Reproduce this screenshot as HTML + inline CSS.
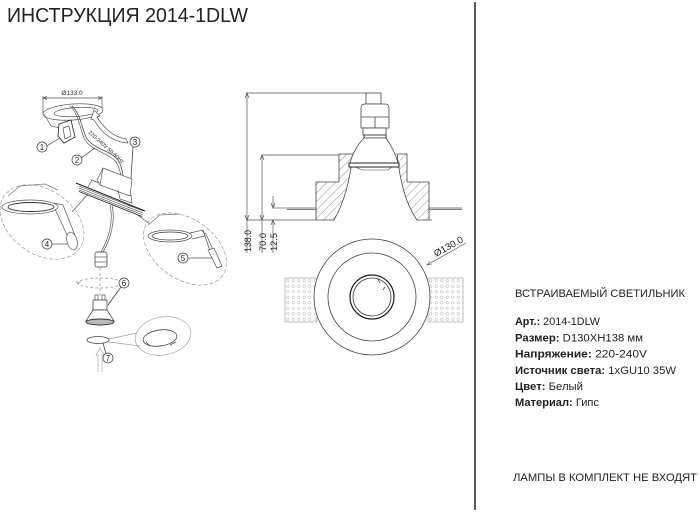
<!DOCTYPE html>
<html><head><meta charset="utf-8"><style>
html,body{margin:0;padding:0;background:#fff;}
svg{display:block;}
text{font-family:"Liberation Sans",Arial,sans-serif;}
</style></head><body>
<svg width="700" height="513" viewBox="0 0 700 513" xmlns="http://www.w3.org/2000/svg">
<defs>
<pattern id="hatch" patternUnits="userSpaceOnUse" width="6" height="6" patternTransform="rotate(45)">
<line x1="0" y1="0" x2="0" y2="6" stroke="#666" stroke-width="0.7"/>
</pattern>
<pattern id="dots" patternUnits="userSpaceOnUse" width="5.5" height="5.5" x="285" y="278">
<circle cx="2.75" cy="2.75" r="1.3" fill="none" stroke="#aaa" stroke-width="0.5"/>
</pattern>
</defs>
<rect width="700" height="513" fill="#fff"/>

<!-- Title -->
<text x="7" y="22" font-size="20" textLength="241" lengthAdjust="spacingAndGlyphs" fill="#222">ИНСТРУКЦИЯ 2014-1DLW</text>

<!-- Divider -->
<line x1="475" y1="2" x2="475" y2="510" stroke="#555" stroke-width="2"/>

<!-- Right text -->
<g fill="#222" font-size="11">
<text x="515" y="297" textLength="170" lengthAdjust="spacingAndGlyphs">ВСТРАИВАЕМЫЙ СВЕТИЛЬНИК</text>
<text x="515" y="325" textLength="85" lengthAdjust="spacingAndGlyphs"><tspan font-weight="bold">Арт.:</tspan> 2014-1DLW</text>
<text x="515" y="341.5" textLength="128" lengthAdjust="spacingAndGlyphs"><tspan font-weight="bold">Размер:</tspan> D130XH138 мм</text>
<text x="515" y="357.5" textLength="132" lengthAdjust="spacingAndGlyphs"><tspan font-weight="bold">Напряжение:</tspan> 220-240V</text>
<text x="515" y="374" textLength="161" lengthAdjust="spacingAndGlyphs"><tspan font-weight="bold">Источник света:</tspan> 1xGU10 35W</text>
<text x="515" y="390" textLength="68" lengthAdjust="spacingAndGlyphs"><tspan font-weight="bold">Цвет:</tspan> Белый</text>
<text x="515" y="406" textLength="84" lengthAdjust="spacingAndGlyphs"><tspan font-weight="bold">Материал:</tspan> Гипс</text>
<text x="513" y="481" textLength="184" lengthAdjust="spacingAndGlyphs">ЛАМПЫ В КОМПЛЕКТ НЕ ВХОДЯТ</text>
</g>

<!-- ================= Cross-section ================= -->
<g fill="none" stroke="#555" stroke-width="0.7">
<line x1="246" y1="93" x2="366" y2="93"/>
<line x1="247" y1="93" x2="247" y2="253"/>
<path d="M245,98 L247,93 L249,98" />
<path d="M245,215 L247,220 L249,215" />
<line x1="262" y1="155" x2="339" y2="155"/>
<line x1="262" y1="155" x2="262" y2="253"/>
<path d="M260,160 L262,155 L264,160" />
<path d="M260,215 L262,220 L264,215" />
<line x1="273" y1="196" x2="273" y2="208"/>
<path d="M271,203 L273,208 L275,203" />
<line x1="273" y1="208" x2="287" y2="208"/>
<line x1="273" y1="220" x2="273" y2="253"/>
<path d="M271,225 L273,220 L275,225" />
<line x1="246" y1="220" x2="316" y2="220"/>
<line x1="429" y1="220" x2="432" y2="220"/>
<line x1="287" y1="208" x2="316" y2="208"/>
<line x1="287" y1="209.5" x2="316" y2="209.5"/>
<line x1="429" y1="208" x2="462" y2="208"/>
<line x1="429" y1="209.5" x2="462" y2="209.5"/>
</g>
<g fill="#222" font-size="9.5">
<text transform="translate(251,252) rotate(-90)" textLength="22" lengthAdjust="spacingAndGlyphs">138.0</text>
<text transform="translate(266,251) rotate(-90)" textLength="18" lengthAdjust="spacingAndGlyphs">70.0</text>
<text transform="translate(277,251) rotate(-90)" textLength="18" lengthAdjust="spacingAndGlyphs">12.5</text>
</g>

<path d="M339,154 L353,154 C350,180 344,203 334,220 L316,220 L316,182 L339,182 Z" fill="url(#hatch)" stroke="#444" stroke-width="0.8"/>
<path d="M397,154 L407,154 L407,182 L429,182 L429,220 L417,220 C405,203 400,180 397,154 Z" fill="url(#hatch)" stroke="#444" stroke-width="0.8"/>
<g fill="#fff" stroke="#555" stroke-width="0.6">
<path d="M316,210 q2,1.5 0,3"/>
<path d="M429,210 q-2,1.5 0,3"/>
</g>
<g fill="#fff" stroke="#444" stroke-width="0.8">
<rect x="366" y="93" width="15" height="11"/>
<path d="M361,128 L361,108 Q361,104 365,104 L385,104 Q389,104 389,108 L389,128 Z"/>
<line x1="361" y1="117" x2="389" y2="117"/>
<line x1="375" y1="117" x2="375" y2="128"/>
<rect x="363" y="128" width="23" height="7"/>
<path d="M364,135 L386,135 L386,138 L364,138 Z" stroke-width="1.1"/>
<path d="M364,138 C357,145 352,155 350,163 L398,163 C396,155 391,145 386,138 Z"/>
<path d="M349,163 L399,163 L399,167 L349,167 Z" stroke="#222" stroke-width="1"/>
</g>
<path d="M355,167 L362,170 L388,170 L392,167" fill="none" stroke="#444" stroke-width="0.6"/>

<!-- ================= Plan view ================= -->
<rect x="285" y="278" width="32" height="44" fill="url(#dots)" stroke="#999" stroke-width="0.6"/>
<rect x="428" y="278" width="35" height="44" fill="url(#dots)" stroke="#999" stroke-width="0.6"/>
<circle cx="372" cy="297" r="58" fill="#fff" stroke="#444" stroke-width="0.8"/>
<circle cx="372" cy="297" r="44" fill="none" stroke="#444" stroke-width="0.8"/>
<circle cx="372" cy="297" r="22" fill="none" stroke="#222" stroke-width="1.2"/>
<circle cx="372" cy="297" r="19" fill="none" stroke="#333" stroke-width="0.8"/>
<path d="M378,279 l2,4 M385,287 l-2,3" stroke="#333" stroke-width="0.7" fill="none"/>
<line x1="427" y1="265" x2="466" y2="243" stroke="#555" stroke-width="0.7"/>
<path d="M430,261 L427,265 L432,264" fill="none" stroke="#555" stroke-width="0.6"/>
<text transform="translate(436,257) rotate(-29)" font-size="9.5" fill="#222" textLength="32" lengthAdjust="spacingAndGlyphs">Ø130.0</text>

<!-- ================= Exploded view (left) ================= -->
<g fill="none" stroke="#555" stroke-width="0.7">
<line x1="43" y1="98" x2="102" y2="98"/>
<path d="M47,96.5 L43,98 L47,99.5 M98,96.5 L102,98 L98,99.5"/>
<line x1="43" y1="96" x2="43" y2="113"/>
<line x1="102" y1="96" x2="102" y2="109"/>
<ellipse cx="73" cy="112" rx="30" ry="8" transform="rotate(-4 73 112)" fill="#fff"/>
<ellipse cx="76" cy="112" rx="22" ry="4.5" transform="rotate(-4 76 112)"/>
<path d="M44,114 L51,126 L60,128"/>
<path d="M59,124 L71,120 L75,137 L64,143 L58,136 Z" fill="#fff" stroke="#333" stroke-width="0.9"/>
<path d="M63,128 L69,126 L71,136 L65,139 Z"/>
<path d="M70,106 C78,113 80,128 84,138 C90,151 108,152 116,162 C120,168 121,175 121,180"/>
<path d="M72,106 C80,113 82,128 86,137 C92,149 110,150 118,160 C122,166 123,174 123,180" stroke="#333"/>
<path d="M91,119 L94,110 L100,116 L97,117 C104,128 113,137 126,139 L128,143 C112,142 101,132 94,120 Z" fill="#fff"/>
<path d="M103,168 L132,179 L130,196 L100,185 Z" fill="#fff"/>
<path d="M100,185 L97,180 L103,168"/>
<path d="M118,190 L120,199 L132,203 L131,195"/>
<path d="M88,187 L92,180 L99,183"/>
<path d="M76,183 L145,211" stroke="#222" stroke-width="1"/>
<path d="M79,186 L143,211 M79,188 L143,213 M79,190 L143,215" stroke="#444" stroke-width="0.6"/>
<path d="M79,191.5 L142,216.5" stroke="#222" stroke-width="0.8"/>
<line x1="88" y1="194" x2="72" y2="212"/>
<line x1="136" y1="214" x2="150" y2="224"/>
<path d="M110,205 C114,222 108,240 101,252"/>
<path d="M112,205 C116,222 110,240 103,252"/>
<rect x="95" y="252" width="12" height="15" rx="2" fill="#fff" stroke="#333"/>
<line x1="95" y1="257" x2="107" y2="257"/>
<line x1="95" y1="262" x2="107" y2="262"/>
<ellipse cx="100" cy="283" rx="22" ry="5" stroke="#999" stroke-dasharray="3,2"/>
<path d="M76,281 L78,284 L81,281 M120,285 L122,282 L125,285" stroke="#999"/>
<line x1="100" y1="268" x2="100" y2="298" stroke="#999" stroke-dasharray="3,2"/>
<rect x="95" y="295" width="3" height="5" fill="#fff"/>
<rect x="102" y="295" width="3" height="5" fill="#fff"/>
<rect x="93" y="300" width="14" height="10" fill="#fff" stroke="#333"/>
<path d="M93,310 L86,321 L114,321 L107,310 Z" fill="#fff" stroke="#333"/>
<ellipse cx="100" cy="322" rx="14" ry="3" fill="#bbb" stroke="#333" stroke-width="0.9"/>
<ellipse cx="98" cy="340" rx="11" ry="3.5" stroke="#444" stroke-width="0.8"/>
<path d="M98,372 L98,355 L96,355 L100,348 L104,355 L102,355 L102,372" stroke="#aaa"/>
<ellipse cx="163" cy="336" rx="28" ry="19" transform="rotate(-10 163 336)" stroke="#aaa"/>
<ellipse cx="160" cy="338" rx="17" ry="8" transform="rotate(-8 160 338)" stroke="#444" stroke-width="0.8"/>
<path d="M146,342 L150,346 M170,345 L176,342" stroke="#444"/>
<line x1="109" y1="339" x2="137" y2="333" stroke="#999"/>
<line x1="109" y1="342" x2="140" y2="346" stroke="#999"/>
<ellipse cx="42" cy="222" rx="46" ry="32" transform="rotate(35 42 222)" stroke="#999" stroke-dasharray="4,2"/>
<path d="M8,196 L20,186 L45,184 L58,190" stroke="#777"/>
<ellipse cx="30" cy="207" rx="28" ry="7" fill="#fff"/>
<ellipse cx="31" cy="207" rx="23" ry="4.5" stroke="#333" stroke-width="0.9"/>
<path d="M54,203 L63,205 L76,238 M55,209 L68,237"/>
<ellipse cx="72" cy="241" rx="5" ry="9" transform="rotate(-15 72 241)" fill="#fff"/>
<line x1="52" y1="244" x2="68" y2="244"/>
<ellipse cx="185" cy="249" rx="46" ry="30" transform="rotate(35 185 249)" stroke="#999" stroke-dasharray="4,2"/>
<path d="M148,225 L160,215 L180,214" stroke="#777"/>
<ellipse cx="170" cy="236" rx="22" ry="6" fill="#fff"/>
<ellipse cx="170" cy="236" rx="18" ry="4" stroke="#333"/>
<path d="M190,233 L203,230 L205,236 L192,239"/>
<path d="M202,231 L206,234 L213,250 M205,236 L210,251"/>
<path d="M208,250 L214,248 L222,266 L217,268 Z" fill="#fff"/>
<line x1="188" y1="258" x2="212" y2="258"/>
</g>
<text transform="translate(88,133) rotate(42)" font-size="5.5" fill="#333">220-240V 50-60Hz</text>
<text x="72" y="95" font-size="6.5" text-anchor="middle" fill="#333">Ø133.0</text>

<g fill="#fff" stroke="#333" stroke-width="0.7">
<line x1="46.5" y1="146" x2="60" y2="138"/>
<line x1="81" y1="158" x2="95" y2="148"/>
<line x1="133" y1="147" x2="131" y2="178"/>
<line x1="121" y1="287" x2="108" y2="305"/>
<line x1="106" y1="354" x2="103" y2="343"/>
<circle cx="42" cy="147" r="5"/>
<circle cx="77" cy="160" r="5"/>
<circle cx="135" cy="142" r="5"/>
<circle cx="47" cy="244" r="5"/>
<circle cx="183" cy="258" r="5"/>
<circle cx="124" cy="283" r="5"/>
<circle cx="108" cy="358" r="5"/>
</g>
<g font-size="8" fill="#222" text-anchor="middle">
<text x="42" y="150">1</text>
<text x="77" y="163">2</text>
<text x="135" y="145">3</text>
<text x="47" y="247">4</text>
<text x="183" y="261">5</text>
<text x="124" y="286">6</text>
<text x="108" y="361">7</text>
</g>
</svg>
</body></html>
